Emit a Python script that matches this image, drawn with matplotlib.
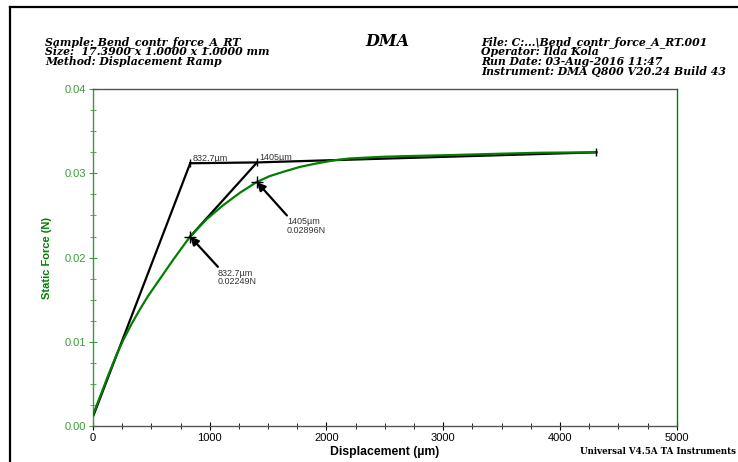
import matplotlib
matplotlib.use("Agg")
import matplotlib.pyplot as plt
from matplotlib.lines import Line2D
from matplotlib.ticker import MultipleLocator, FormatStrFormatter

# static force curve
disp = [0, 130, 200, 259, 330, 400, 470, 545, 690, 830, 975, 1116, 1260, 1401, 1515,
        1629, 1770, 1915, 2060, 2200, 2486, 2750, 3057, 3400, 3827, 4312]
force = [0.0013, 0.0060, 0.0084, 0.0102, 0.0121, 0.0138, 0.0154, 0.0169, 0.0198,
         0.02247, 0.02457, 0.02623, 0.02771, 0.02896, 0.02968, 0.03018, 0.03076,
         0.03118, 0.03154, 0.03177, 0.03197, 0.03207, 0.03217, 0.0323, 0.03245, 0.0325]

# construction lines (onset analysis)
tan1_x = [0, 832.7]
tan1_y = [0.0011, 0.0312]
flat_x = [832.7, 1405, 4312]
flat_y = [0.0312, 0.0313, 0.0325]
tan2_x = [832.7, 1405]
tan2_y = [0.0225, 0.0313]

pts_x = [832.7, 1405]
pts_y = [0.02249, 0.02896]
pt_labels = ["832.7\u00b5m\n0.02249N", "1405\u00b5m\n0.02896N"]
txt_pos = [(1070, 0.0189), (1661, 0.0250)]
onset_labels = ["832.7\u00b5m", "1405\u00b5m"]

green = "#008000"
axgreen = "#3c9a3c"

fig = plt.figure(figsize=(7.38, 4.62), dpi=100)
ax = fig.add_axes([0.126, 0.078, 0.791, 0.729])

ax.plot(disp, force, color=green, lw=1.6, zorder=3)
ax.plot(tan1_x, tan1_y, color="black", lw=1.6, zorder=2)
ax.plot(flat_x, flat_y, color="black", lw=1.6, zorder=2)
ax.plot(tan2_x, tan2_y, color="black", lw=1.6, zorder=2)
ax.plot(pts_x, pts_y, "+", color="black", ms=8, mew=1, zorder=4)
ax.plot(flat_x, flat_y, "|", color="black", ms=6, mew=1, zorder=4)

for (x, y), lab, tp in zip(zip(pts_x, pts_y), pt_labels, txt_pos):
    ax.annotate("", xy=(x, y), xytext=tp,
                arrowprops=dict(arrowstyle="-|>", color="black", lw=1.6,
                                mutation_scale=12, shrinkA=0, shrinkB=0))
    ax.text(tp[0], tp[1] - 0.0002, lab, fontsize=6.5, color="#333333",
            family="Liberation Sans", va="top", ha="left", linespacing=0.95)

for x, y, lab in zip(flat_x[:2], flat_y[:2], onset_labels):
    ax.text(x + 20, y, lab, fontsize=6.5, color="#333333",
            family="Liberation Sans", va="bottom", ha="left")

ax.set_xlim(0, 5000)
ax.set_ylim(0, 0.04)
ax.xaxis.set_major_locator(MultipleLocator(1000))
ax.xaxis.set_minor_locator(MultipleLocator(250))
ax.yaxis.set_major_locator(MultipleLocator(0.01))
ax.yaxis.set_minor_locator(MultipleLocator(0.0025))
ax.yaxis.set_major_formatter(FormatStrFormatter("%.2f"))

ax.spines["left"].set_color(axgreen)
ax.spines["right"].set_color(green)
ax.spines["top"].set_color("#555555")
ax.spines["bottom"].set_color("#555555")
for s in ax.spines.values():
    s.set_linewidth(1.0)

ax.tick_params(axis="y", which="both", direction="inout", colors=axgreen,
               labelsize=8, labelcolor=axgreen)
ax.tick_params(axis="y", which="major", length=6, pad=2)
ax.tick_params(axis="y", which="minor", length=4)
ax.tick_params(axis="x", which="both", direction="inout", colors="black",
               labelsize=8)
ax.tick_params(axis="x", which="major", length=6, pad=2)
ax.tick_params(axis="x", which="minor", length=4)
for lab in ax.get_xticklabels() + ax.get_yticklabels():
    lab.set_family("Liberation Sans")

ax.set_xlabel("Displacement (\u00b5m)", fontsize=8.8, fontweight="bold",
              family="Liberation Sans", labelpad=2)
ax.set_ylabel("Static Force (N)", fontsize=8, fontweight="bold",
              family="Liberation Sans", color=green, labelpad=9)

# header block
hdr = dict(fontsize=7.8, fontweight="bold", style="italic", family="DejaVu Serif",
           va="center", linespacing=1.0)
fig.text(0.061, 1 - 41.7 / 462, "Sample: Bend_contr_force_A_RT", **hdr)
fig.text(0.061, 1 - 51.7 / 462, "Size:  17.3900 x 1.0000 x 1.0000 mm", **hdr)
fig.text(0.061, 1 - 61.7 / 462, "Method: Displacement Ramp", **hdr)
fig.text(0.652, 1 - 41.7 / 462, "File: C:...\\Bend_contr_force_A_RT.001", **hdr)
fig.text(0.652, 1 - 51.7 / 462, "Operator: Ilda Kola", **hdr)
fig.text(0.652, 1 - 61.7 / 462, "Run Date: 03-Aug-2016 11:47", **hdr)
fig.text(0.652, 1 - 71.7 / 462, "Instrument: DMA Q800 V20.24 Build 43", **hdr)
fig.text(0.525, 1 - 42 / 462, "DMA", fontsize=11.5, fontweight="bold", style="italic",
         family="DejaVu Serif", ha="center", va="center")
fig.text(0.997, 1 - 452 / 462, "Universal V4.5A TA Instruments", fontsize=6.2,
         fontweight="bold", family="DejaVu Serif", va="center", ha="right")

# page frame
fig.add_artist(Line2D([10 / 738, 10 / 738], [0, 1 - 7 / 462], color="black", lw=1.6))
fig.add_artist(Line2D([10 / 738, 1], [1 - 7 / 462, 1 - 7 / 462], color="black", lw=1.6))

fig.savefig("out.png", dpi=100)
